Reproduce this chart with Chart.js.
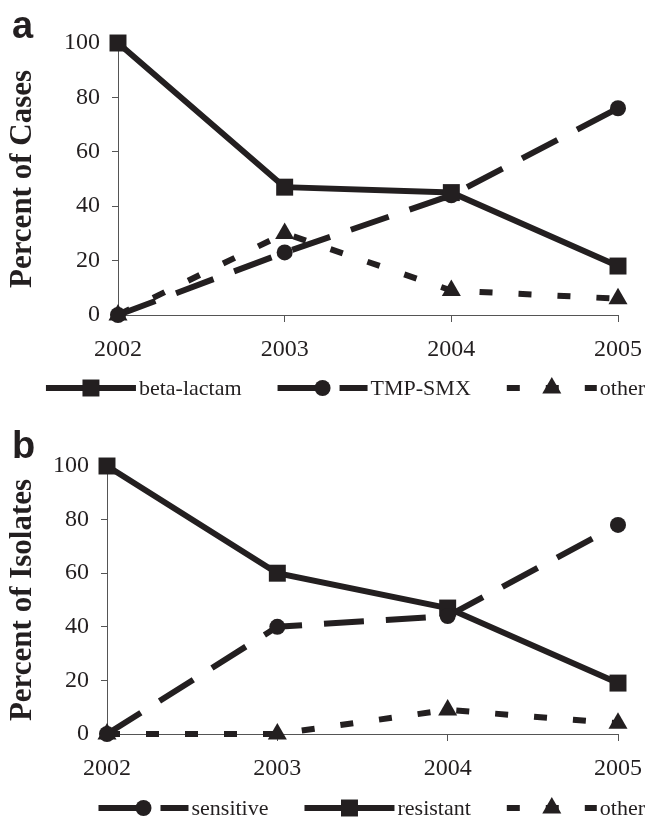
<!DOCTYPE html>
<html>
<head>
<meta charset="utf-8">
<script src="https://cdn.jsdelivr.net/npm/chart.js@4.4.0/dist/chart.umd.min.js"></script>
<style>
  html, body { margin: 0; padding: 0; background: #fff; }
  .panel { position: absolute; left: 0; width: 655px; height: 410px; }
  #wrapA { top: 0; }
  #wrapB { top: 410px; }
</style>
</head>
<body>
<div class="panel" id="wrapA"><canvas id="chartA" width="655" height="410"></canvas></div>
<div class="panel" id="wrapB"><canvas id="chartB" width="655" height="410"></canvas></div>
<script>
const years = ['2002', '2003', '2004', '2005'];

// panel a - percent of cases
const betaLactam = [100, 47, 45, 18];
const tmpSmx = [0, 23, 44, 76];
const otherCases = [0, 30, 9, 6];

// panel b - percent of isolates
const sensitive = [0, 40, 44, 78];
const resistant = [100, 60, 47, 19];
const otherIsolates = [0, 0, 9, 4];

const ink = '#231f20';
const axisGrey = '#555';
const serif = '"Liberation Serif", "Times New Roman", serif';

const solid = { borderDash: [], pointStyle: 'rect', pointRadius: 12 };
const longDash = { borderDash: [40, 22], pointStyle: 'circle', pointRadius: 8 };
const shortDash = { borderDash: [13, 26], pointStyle: 'triangle', pointRadius: 11 };

function series(label, data, style) {
    return {
        label: label,
        data: data,
        borderColor: ink,
        backgroundColor: ink,
        borderWidth: 6,
        borderDash: style.borderDash,
        pointStyle: style.pointStyle,
        pointRadius: style.pointRadius,
        pointBackgroundColor: ink,
        pointBorderWidth: 0,
        tension: 0,
        fill: false,
        clip: false
    };
}

// legend with a line sample + marker, and the panel letter
const panelExtras = {
    id: 'panelExtras',
    afterDraw(chart, args, opts) {
        const ctx = chart.ctx;
        const sets = chart.data.datasets;
        ctx.save();

        ctx.font = 'bold 38px "Liberation Sans", Arial, sans-serif';
        ctx.fillStyle = ink;
        ctx.textBaseline = 'alphabetic';
        ctx.textAlign = 'left';
        ctx.fillText(opts.tag, opts.tagX, opts.tagY);

        ctx.font = '22px ' + serif;
        const sample = 90, gapText = 3, gapItem = 36;
        let total = 0;
        sets.forEach((ds, i) => {
            total += sample + gapText + ctx.measureText(ds.label).width;
            if (i < sets.length - 1) total += gapItem;
        });
        let x = opts.right - total;
        const y = chart.chartArea.bottom + opts.offsetY;
        ctx.textBaseline = 'middle';
        sets.forEach(ds => {
            ctx.strokeStyle = ds.borderColor;
            ctx.lineWidth = ds.borderWidth;
            ctx.setLineDash(ds.borderDash);
            ctx.beginPath();
            ctx.moveTo(x, y);
            ctx.lineTo(x + sample, y);
            ctx.stroke();
            ctx.setLineDash([]);
            ctx.fillStyle = ink;
            Chart.helpers.drawPoint(ctx, {
                pointStyle: ds.pointStyle,
                radius: ds.pointRadius,
                rotation: 0,
                borderWidth: 0
            }, x + sample / 2, y);
            x += sample + gapText;
            ctx.fillText(ds.label, x, y + 1);
            x += ctx.measureText(ds.label).width + gapItem;
        });
        ctx.restore();
    }
};

function makeChart(id, datasets, yTitle, geo) {
    return new Chart(document.getElementById(id), {
        type: 'line',
        data: { labels: years, datasets: datasets },
        plugins: [panelExtras],
        options: {
            responsive: false,
            animation: false,
            layout: { padding: { top: geo.top, right: geo.right, bottom: 0, left: 0 } },
            plugins: {
                legend: { display: false },
                tooltip: { enabled: false },
                panelExtras: {
                    tag: geo.tag, tagX: 12, tagY: geo.tagY,
                    right: 645, offsetY: geo.legendY
                }
            },
            scales: {
                x: {
                    offset: false,
                    afterFit(scale) { scale.height = geo.xHeight; },
                    grid: {
                        drawOnChartArea: false,
                        drawTicks: true,
                        tickLength: 7,
                        color: axisGrey
                    },
                    border: { display: true, color: axisGrey, width: 1 },
                    ticks: {
                        color: ink,
                        padding: 13,
                        maxRotation: 0,
                        font: { family: serif, size: 24 }
                    }
                },
                y: {
                    min: 0,
                    max: 100,
                    afterFit(scale) { scale.width = geo.axisX; },
                    grid: {
                        drawOnChartArea: false,
                        drawTicks: true,
                        tickLength: 6,
                        color: axisGrey
                    },
                    border: { display: true, color: axisGrey, width: 1 },
                    ticks: {
                        stepSize: 20,
                        color: ink,
                        padding: 12,
                        font: { family: serif, size: 24 }
                    },
                    title: {
                        display: true,
                        text: yTitle,
                        color: ink,
                        padding: { top: 4, bottom: 0 },
                        font: { family: serif, size: 31, weight: 'bold' }
                    }
                }
            }
        }
    });
}

makeChart('chartA', [
    series('beta-lactam', betaLactam, solid),
    series('TMP-SMX', tmpSmx, longDash),
    series('other', otherCases, shortDash)
], 'Percent of Cases', {
    tag: 'a', tagY: 38, top: 43, right: 27, xHeight: 95, axisX: 118, legendY: 73
});

makeChart('chartB', [
    series('sensitive', sensitive, longDash),
    series('resistant', resistant, solid),
    series('other', otherIsolates, shortDash)
], 'Percent of Isolates', {
    tag: 'b', tagY: 48, top: 56, right: 30, xHeight: 86, axisX: 107, legendY: 74
});
</script>
</body>
</html>
